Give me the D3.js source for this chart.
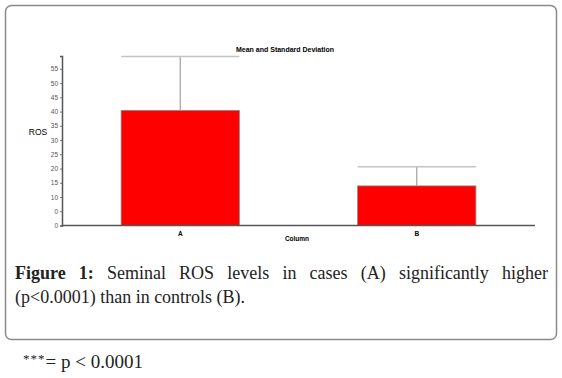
<!DOCTYPE html>
<html>
<head>
<meta charset="utf-8">
<script src="https://cdn.jsdelivr.net/npm/d3@7"></script>
<style>
  html, body { margin: 0; padding: 0; background: #fff; }
  svg { display: block; }
</style>
</head>
<body>
<div id="chart"></div>
<script>
// Seminal ROS: mean and SD for cases (A) and controls (B)
const categories = ['A', 'B'];
const means = [40.4, 13.9];
const sds = [18.9, 6.7];
const yTicks = [0, 5, 10, 15, 20, 25, 30, 35, 40, 45, 50, 55];
const yTickLabels = ['0', '0', '10', '15', '20', '25', '30', '35', '40', '45', '50', '55'];

const width = 562, height = 378;
const svg = d3.select('#chart').append('svg')
  .attr('width', width).attr('height', height);

// panel frame
svg.append('rect')
  .attr('x', 5.5).attr('y', 5.5).attr('width', 551).attr('height', 334)
  .attr('rx', 6).attr('fill', 'none').attr('stroke', '#8a8a8a').attr('stroke-width', 1.5);

const x = d3.scaleBand().domain(categories).range([62, 535])
  .paddingInner(0.5).paddingOuter(0.25);
const y = d3.scaleLinear().domain([0, 59.5]).range([225.5, 56]);

const sans = 'Liberation Sans, Arial, sans-serif';

// y axis
const yAx = svg.append('g').attr('transform', 'translate(62,0)')
  .call(d3.axisLeft(y).tickValues(yTicks).tickSize(2).tickPadding(2)
    .tickFormat((d, i) => yTickLabels[i]));
yAx.select('.domain').attr('stroke', '#555').attr('stroke-width', 1.5);
yAx.selectAll('.tick line').attr('stroke', '#777');
yAx.selectAll('text').attr('font-family', sans).attr('font-size', 6.5).attr('fill', '#555');

// bars
svg.selectAll('.bar').data(categories).join('rect')
  .attr('class', 'bar')
  .attr('x', d => x(d)).attr('y', (d, i) => y(means[i]))
  .attr('width', x.bandwidth()).attr('height', (d, i) => y(0) - y(means[i]))
  .attr('fill', '#ff0000').attr('stroke', '#888').attr('stroke-width', 0.8);

// error bars
svg.selectAll('.stem').data(categories).join('line')
  .attr('x1', d => x(d) + x.bandwidth() / 2).attr('x2', d => x(d) + x.bandwidth() / 2)
  .attr('y1', (d, i) => y(means[i])).attr('y2', (d, i) => y(means[i] + sds[i]))
  .attr('stroke', '#a0a0a0').attr('stroke-width', 1.2);
svg.selectAll('.cap').data(categories).join('line')
  .attr('x1', d => x(d)).attr('x2', d => x(d) + x.bandwidth())
  .attr('y1', (d, i) => y(means[i] + sds[i])).attr('y2', (d, i) => y(means[i] + sds[i]))
  .attr('stroke', '#c4c4c4').attr('stroke-width', 1.5);

// x axis
const xAx = svg.append('g').attr('transform', `translate(0,${y(0)})`)
  .call(d3.axisBottom(x).tickSize(0).tickPadding(6));
xAx.select('.domain').attr('stroke', '#555').attr('stroke-width', 1.5).attr('d', 'M62,0H535');
xAx.selectAll('text').attr('font-family', sans).attr('font-size', 6.5)
  .attr('font-weight', 'bold').attr('fill', '#000');

// titles
svg.append('text').attr('x', 285).attr('y', 52).attr('text-anchor', 'middle')
  .attr('font-family', sans).attr('font-size', 7).attr('font-weight', 'bold')
  .attr('fill', '#000').text('Mean and Standard Deviation');
svg.append('text').attr('x', 38).attr('y', 135).attr('text-anchor', 'middle')
  .attr('font-family', sans).attr('font-size', 8.5).attr('fill', '#000').text('ROS');
svg.append('text').attr('x', 297).attr('y', 241).attr('text-anchor', 'middle')
  .attr('font-family', sans).attr('font-size', 6.5).attr('font-weight', 'bold')
  .attr('fill', '#000').text('Column');

// caption, first line justified
const serif = 'Liberation Serif, Times New Roman, serif';
const line1 = [['Figure', true], ['1:', true], ['Seminal', false], ['ROS', false], ['levels', false],
  ['in', false], ['cases', false], ['(A)', false], ['significantly', false], ['higher', false]];
const cap = svg.append('g').attr('font-family', serif).attr('font-size', 18).attr('fill', '#222');
const words = cap.selectAll('.w').data(line1).join('text')
  .attr('class', 'w').attr('y', 279)
  .attr('font-weight', d => d[1] ? 'bold' : 'normal').text(d => d[0]);
const widths = [];
words.each(function () { widths.push(this.getComputedTextLength()); });
const left = 15, right = 548;
const gap = (right - left - d3.sum(widths)) / (widths.length - 1);
let cx = left;
words.attr('x', (d, i) => { const p = cx; cx += widths[i] + gap; return p; });

cap.append('text').attr('x', left).attr('y', 303).text('(p<0.0001) than in controls (B).');

// footnote
const fn = svg.append('text').attr('x', 23).attr('y', 368)
  .attr('font-family', serif).attr('font-size', 19).attr('fill', '#222');
fn.append('tspan').attr('font-size', 13).attr('letter-spacing', 1).attr('dy', -5).text('***');
fn.append('tspan').attr('dy', 5).text('= p < 0.0001');
</script>
</body>
</html>
